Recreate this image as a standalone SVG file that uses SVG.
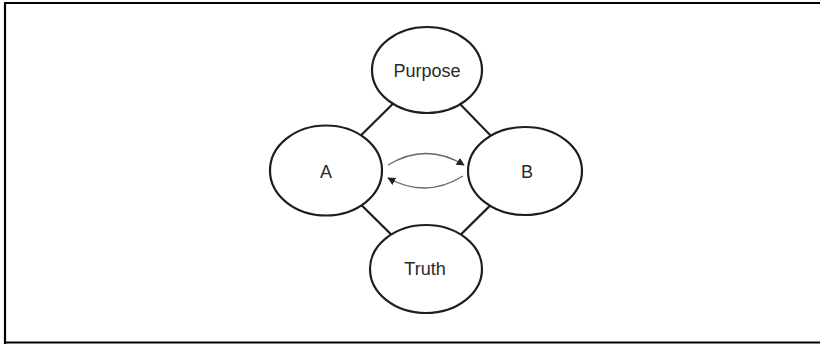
<svg xmlns="http://www.w3.org/2000/svg" width="820" height="344" viewBox="0 0 820 344">
<defs>
<style>
.frame{fill:none;stroke:#000;stroke-width:2.2}
.node{fill:#fff;stroke:#1e1e1e;stroke-width:2.2}
.lbl{font-family:"Liberation Sans",Arial,sans-serif;font-size:18px;fill:#2a2a2a;text-anchor:middle}
.link{stroke:#1e1e1e;stroke-width:2.2;fill:none}
.arc{stroke:#666;stroke-width:1.3;fill:none;marker-end:url(#ah)}
</style>
<marker id="ah" viewBox="0 0 10 10" refX="9" refY="5" markerWidth="8" markerHeight="8" markerUnits="userSpaceOnUse" orient="auto">
<path d="M0,0 L10,5 L0,10 z" fill="#222"/>
</marker>
</defs>
<rect width="820" height="344" fill="#fff"/>
<path class="frame" d="M5,345 V3 H826 M826,342.5 H5"/>
<g id="connectors">
<line class="link" x1="326" y1="170" x2="427" y2="70"/>
<line class="link" x1="525" y1="171" x2="427" y2="70"/>
<line class="link" x1="326" y1="170" x2="426" y2="269"/>
<line class="link" x1="525" y1="171" x2="426" y2="269"/>
<path class="arc" d="M388,165 Q426,142 464,165"/>
<path class="arc" d="M463,176 Q426,199 388,178"/>
</g>
<g id="purpose">
<ellipse class="node" cx="427" cy="70" rx="55" ry="43"/>
<text class="lbl" x="427" y="77">Purpose</text>
</g>
<g id="a">
<ellipse class="node" cx="326" cy="170.5" rx="56" ry="45"/>
<text class="lbl" x="326" y="178">A</text>
</g>
<g id="b">
<ellipse class="node" cx="525" cy="171" rx="57" ry="44"/>
<text class="lbl" x="527" y="178">B</text>
</g>
<g id="truth">
<ellipse class="node" cx="426" cy="269" rx="56" ry="44"/>
<text class="lbl" x="425" y="275">Truth</text>
</g>
</svg>
